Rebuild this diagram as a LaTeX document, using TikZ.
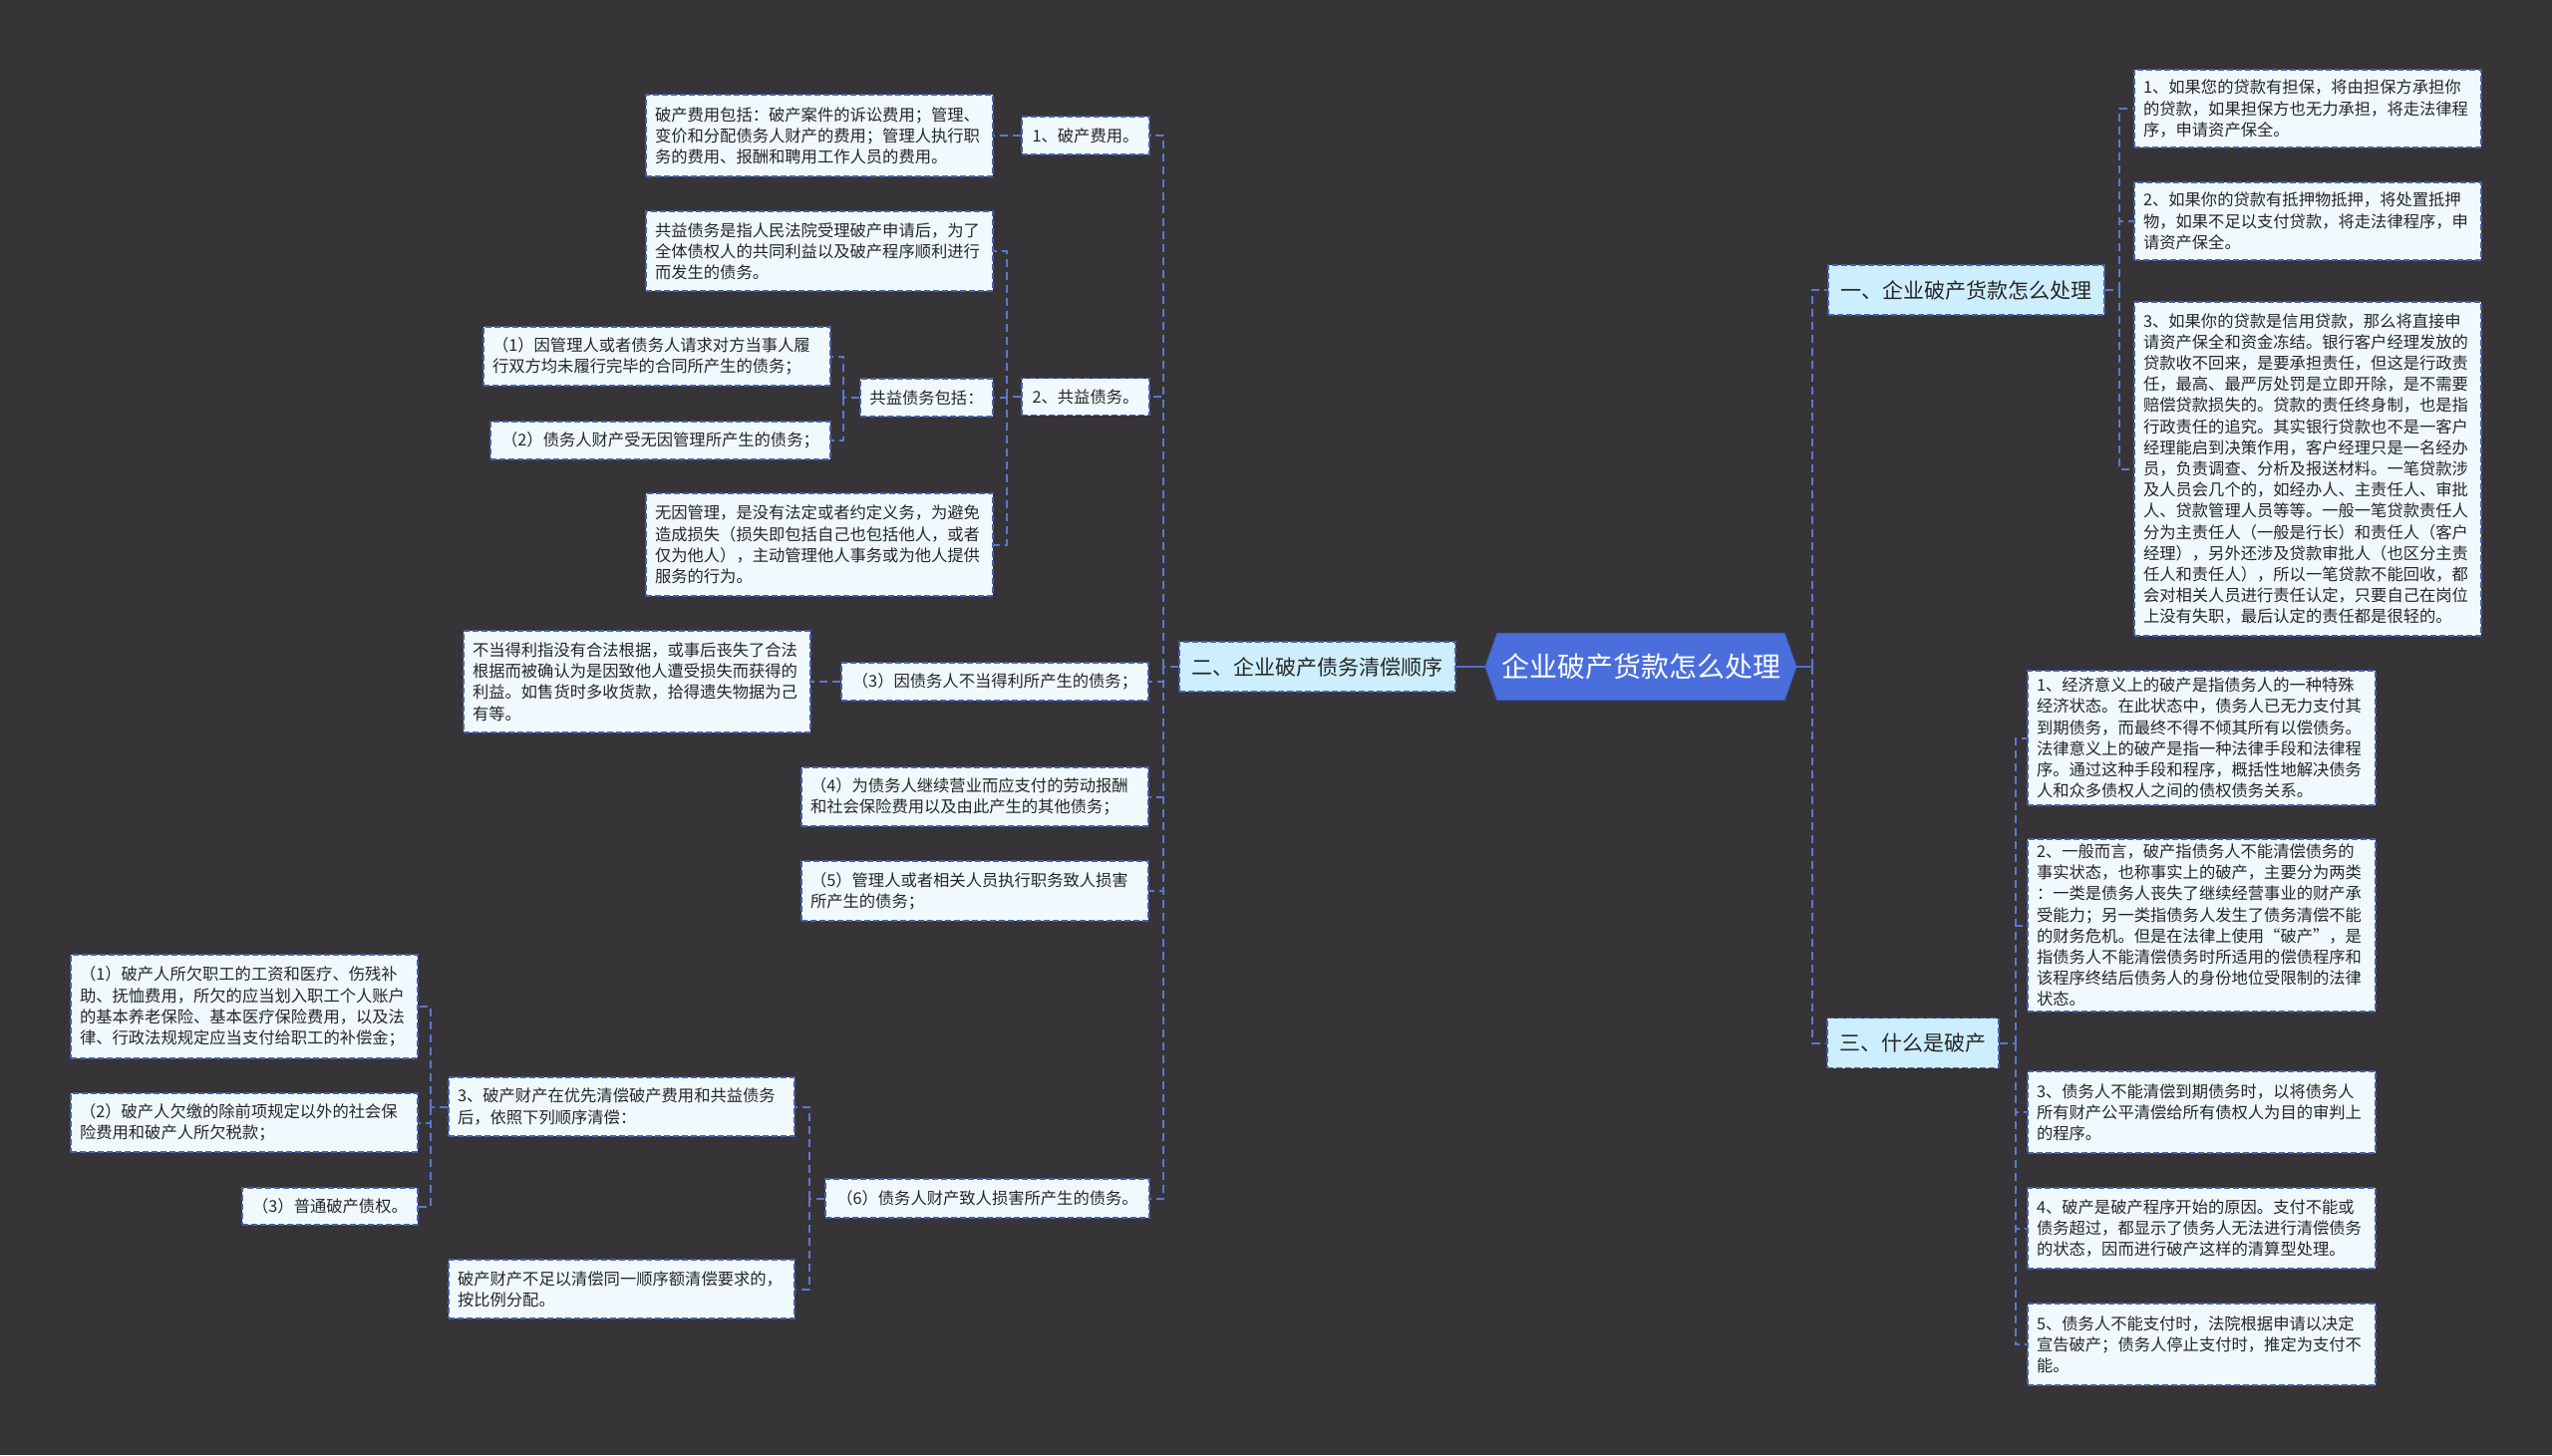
\documentclass[tikz,border=0pt]{standalone}
\usepackage{fontspec}
\setmainfont{Noto Sans CJK SC}
\usetikzlibrary{backgrounds}
\definecolor{bg}{HTML}{363436}
\definecolor{leaffill}{HTML}{F0F9FD}
\definecolor{topfill}{HTML}{CDEEFC}
\definecolor{edge}{HTML}{4660B0}
\definecolor{conn}{HTML}{5A78D2}
\definecolor{hexfill}{HTML}{4A6EDC}
\definecolor{hexedge}{HTML}{3A58B8}
\definecolor{txt}{HTML}{262626}
\begin{document}
\begin{tikzpicture}[x=1pt,y=-1pt,
  leaf/.style={draw=edge, dash pattern=on 6pt off 3pt, line width=1.5pt, fill=leaffill, text=txt,
    inner xsep=9pt, inner ysep=3pt, font=\fontsize{16.3}{21.2}\selectfont},
  multi/.style 2 args={leaf, align=left, text width=#1, minimum height=#2},
  single/.style 2 args={leaf, align=center, text width=#1, minimum height=#2},
  topn/.style={draw=edge, dash pattern=on 6pt off 3pt, line width=1.5pt, fill=topfill, text=txt,
    inner xsep=12.5pt, minimum height=50pt, font=\fontsize{21}{25}\selectfont},
  rootn/.style={text=white, minimum width=312pt, minimum height=67pt, inner sep=0pt,
    font=\fontsize{28}{32}\selectfont},
  dashc/.style={draw=conn, line width=2pt, dash pattern=on 8pt off 5pt},
  solidc/.style={draw=hexfill, line width=2.2pt}]
\begin{scope}[on background layer]
  \fill[bg] (0,0) rectangle (2560,1460);
\end{scope}
\useasboundingbox (0,0) rectangle (2560,1460);

% root
\node[rootn] (root) at (1646,669) {企业破产货款怎么处理};
\begin{scope}[on background layer]
  \filldraw[fill=hexfill, draw=hexedge, line width=1pt] (root.west) -- ([xshift=12pt]root.north west) -- ([xshift=-12pt]root.north east) -- (root.east) -- ([xshift=-12pt]root.south east) -- ([xshift=12pt]root.south west) -- cycle;
\end{scope}

% level 1
\node[topn] (L2) at (1321.5,669) {二、企业破产债务清偿顺序};
\node[topn] (R1) at (1972.5,291) {一、企业破产货款怎么处理};
\node[topn] (R3) at (1919,1046.5) {三、什么是破产};

% right: 一
\node[multi={330pt}{78pt}] (e1) at (2315,109) {1、如果您的贷款有担保，将由担保方承担你\\的贷款，如果担保方也无力承担，将走法律程\\序，申请资产保全。};
\node[multi={330pt}{78pt}] (e2) at (2315,222) {2、如果你的贷款有抵押物抵押，将处置抵押\\物，如果不足以支付贷款，将走法律程序，申\\请资产保全。};
\node[multi={330pt}{335pt}] (e3) at (2315,470.5) {3、如果你的贷款是信用贷款，那么将直接申\\请资产保全和资金冻结。银行客户经理发放的\\贷款收不回来，是要承担责任，但这是行政责\\任，最高、最严厉处罚是立即开除，是不需要\\赔偿贷款损失的。贷款的责任终身制，也是指\\行政责任的追究。其实银行贷款也不是一客户\\经理能启到决策作用，客户经理只是一名经办\\员，负责调查、分析及报送材料。一笔贷款涉\\及人员会几个的，如经办人、主责任人、审批\\人、贷款管理人员等等。一般一笔贷款责任人\\分为主责任人（一般是行长）和责任人（客户\\经理），另外还涉及贷款审批人（也区分主责\\任人和责任人），所以一笔贷款不能回收，都\\会对相关人员进行责任认定，只要自己在岗位\\上没有失职，最后认定的责任都是很轻的。};

% right: 三
\node[multi={331pt}{135pt}] (f1) at (2208.5,740.5) {1、经济意义上的破产是指债务人的一种特殊\\经济状态。在此状态中，债务人已无力支付其\\到期债务，而最终不得不倾其所有以偿债务。\\法律意义上的破产是指一种法律手段和法律程\\序。通过这种手段和程序，概括性地解决债务\\人和众多债权人之间的债权债务关系。};
\node[multi={331pt}{173pt}] (f2) at (2208.5,928.5) {2、一般而言，破产指债务人不能清偿债务的\\事实状态，也称事实上的破产，主要分为两类\\：一类是债务人丧失了继续经营事业的财产承\\受能力；另一类指债务人发生了债务清偿不能\\的财务危机。但是在法律上使用“破产”，是\\指债务人不能清偿债务时所适用的偿债程序和\\该程序终结后债务人的身份地位受限制的法律\\状态。};
\node[multi={331pt}{82pt}] (f3) at (2208.5,1116) {3、债务人不能清偿到期债务时，以将债务人\\所有财产公平清偿给所有债权人为目的审判上\\的程序。};
\node[multi={331pt}{81pt}] (f4) at (2208.5,1232.5) {4、破产是破产程序开始的原因。支付不能或\\债务超过，都显示了债务人无法进行清偿债务\\的状态，因而进行破产这样的清算型处理。};
\node[multi={331pt}{82pt}] (f5) at (2208.5,1349) {5、债务人不能支付时，法院根据申请以决定\\宣告破产；债务人停止支付时，推定为支付不\\能。};

% left: 二 children
\node[single={110pt}{38pt}] (a1) at (1089,136) {1、破产费用。};
\node[single={110pt}{37pt}] (a2) at (1089,398) {2、共益债务。};
\node[single={290pt}{38pt}] (a3) at (998,684) {（3）因债务人不当得利所产生的债务；};
\node[multi={330pt}{59pt}] (a4) at (978,799.5) {（4）为债务人继续营业而应支付的劳动报酬\\和社会保险费用以及由此产生的其他债务；};
\node[multi={330pt}{60pt}] (a5) at (978,894) {（5）管理人或者相关人员执行职务致人损害\\所产生的债务；};
\node[single={307pt}{39pt}] (a6) at (990.5,1202.5) {（6）债务人财产致人损害所产生的债务。};

\node[multi={330pt}{82pt}] (a1t) at (822,136) {破产费用包括：破产案件的诉讼费用；管理、\\变价和分配债务人财产的费用；管理人执行职\\务的费用、报酬和聘用工作人员的费用。};

\node[multi={330pt}{80pt}] (a2t1) at (822,252) {共益债务是指人民法院受理破产申请后，为了\\全体债权人的共同利益以及破产程序顺利进行\\而发生的债务。};
\node[single={115pt}{38pt}] (a2t2) at (929.5,399) {共益债务包括：};
\node[multi={330pt}{103pt}] (a2t3) at (822,546.5) {无因管理，是没有法定或者约定义务，为避免\\造成损失（损失即包括自己也包括他人，或者\\仅为他人），主动管理他人事务或为他人提供\\服务的行为。};

\node[multi={330pt}{59pt}] (b1) at (659,357.5) {（1）因管理人或者债务人请求对方当事人履\\行双方均未履行完毕的合同所产生的债务；};
\node[single={323pt}{38pt}] (b2) at (662.5,442) {（2）债务人财产受无因管理所产生的债务；};

\node[multi={330pt}{102pt}] (a3t) at (639,684) {不当得利指没有合法根据，或事后丧失了合法\\根据而被确认为是因致他人遭受损失而获得的\\利益。如售货时多收货款，拾得遗失物据为己\\有等。};

\node[multi={329pt}{59pt}] (c1) at (623.5,1110.5) {3、破产财产在优先清偿破产费用和共益债务\\后，依照下列顺序清偿：};
\node[multi={329pt}{59pt}] (c2) at (623.5,1293.5) {破产财产不足以清偿同一顺序额清偿要求的，\\按比例分配。};

\node[multi={330pt}{104pt}] (d1) at (245,1010) {（1）破产人所欠职工的工资和医疗、伤残补\\助、抚恤费用，所欠的应当划入职工个人账户\\的基本养老保险、基本医疗保险费用，以及法\\律、行政法规规定应当支付给职工的补偿金；};
\node[multi={330pt}{59pt}] (d2) at (245,1126.5) {（2）破产人欠缴的除前项规定以外的社会保\\险费用和破产人所欠税款；};
\node[single={158pt}{37pt}] (d3) at (331,1210.5) {（3）普通破产债权。};

% connectors: root
\draw[solidc] (root.west) -- (L2.east);
\draw[solidc] (root.east) -- ++(16,0) coordinate (rs);
\draw[dashc] (rs) |- (R1.west);
\draw[dashc] (rs) |- (R3.west);
% 一
\draw[dashc] (R1.east) -- ++(14,0) coordinate (r1s);
\foreach \n in {e1,e2,e3} \draw[dashc] (r1s) |- (\n.west);
% 三
\draw[dashc] (R3.east) -- ++(16,0) coordinate (r3s);
\foreach \n in {f1,f2,f3,f4,f5} \draw[dashc] (r3s) |- (\n.west);
% 二
\draw[dashc] (L2.west) -- ++(-15,0) coordinate (ls);
\foreach \n in {a1,a2,a3,a4,a5,a6} \draw[dashc] (ls) |- (\n.east);
\draw[dashc] (a1.west) -- (a1t.east);
\draw[dashc] (a2.west) -- ++(-14,0) coordinate (a2s);
\foreach \n in {a2t1,a2t2,a2t3} \draw[dashc] (a2s) |- (\n.east);
\draw[dashc] (a2t2.west) -- ++(-16,0) coordinate (a2ts);
\foreach \n in {b1,b2} \draw[dashc] (a2ts) |- (\n.east);
\draw[dashc] (a3.west) -- (a3t.east);
\draw[dashc] (a6.west) -- ++(-15,0) coordinate (a6s);
\foreach \n in {c1,c2} \draw[dashc] (a6s) |- (\n.east);
\draw[dashc] (c1.west) -- ++(-17,0) coordinate (c1s);
\foreach \n in {d1,d2,d3} \draw[dashc] (c1s) |- (\n.east);
\end{tikzpicture}
\end{document}
